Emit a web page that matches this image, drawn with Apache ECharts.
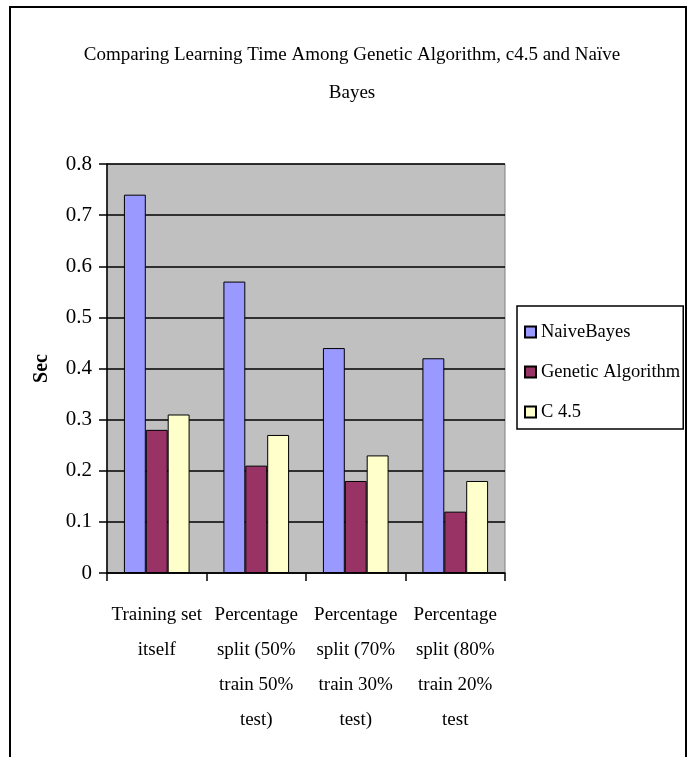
<!DOCTYPE html>
<html>
<head>
<meta charset="utf-8">
<script src="https://cdn.jsdelivr.net/npm/echarts@6/dist/echarts.min.js"></script>
<style>
html,body{margin:0;padding:0;background:#fff;}
#c{width:693px;height:757px;}
</style>
</head>
<body>
<div id="c"></div>
<script>
const categories = [
  "Training set\nitself",
  "Percentage\nsplit (50%\ntrain 50%\ntest)",
  "Percentage\nsplit (70%\ntrain 30%\ntest)",
  "Percentage\nsplit (80%\ntrain 20%\ntest"
];
const naiveBayes = [0.74, 0.57, 0.44, 0.42];
const geneticAlgorithm = [0.28, 0.21, 0.18, 0.12];
const c45 = [0.31, 0.27, 0.23, 0.18];
const seriesNames = ["NaiveBayes", "Genetic Algorithm", "C 4.5"];
const titleText = "Comparing Learning Time Among Genetic Algorithm, c4.5 and Naïve\nBayes";
const yAxisName = "Sec";

const FONT = "'Liberation Serif', 'Times New Roman', serif";
const chart = echarts.init(document.getElementById('c'), null, {renderer: 'canvas'});
const colors = ['#9999FF', '#993366', '#FFFFCC'];
const dataSets = [naiveBayes, geneticAlgorithm, c45];

chart.setOption({
  animation: false,
  backgroundColor: '#ffffff',
  title: {
    text: titleText,
    left: 347,
    top: 31,
    textAlign: 'center',
    textStyle: {fontFamily: FONT, fontSize: 19, fontWeight: 'normal', color: '#000', lineHeight: 38}
  },
  graphic: [{
    type: 'rect',
    shape: {x: 10, y: 7, width: 676, height: 770},
    style: {fill: 'none', stroke: '#000', lineWidth: 2},
    silent: true,
    z: 100
  }],
  legend: {
    orient: 'vertical',
    left: 517,
    top: 306,
    padding: [16, 3, 7, 7],
    borderColor: '#000',
    borderWidth: 1.5,
    itemWidth: 11,
    itemHeight: 11,
    itemGap: 20,
    icon: 'rect',
    textStyle: {fontFamily: FONT, fontSize: 18.5, color: '#000', lineHeight: 20},
    data: seriesNames
  },
  grid: {
    left: 107, top: 164, width: 398, height: 409,
    show: true,
    backgroundColor: '#C0C0C0',
    borderColor: '#808080',
    borderWidth: 1
  },
  xAxis: {
    type: 'category',
    data: categories,
    axisLine: {lineStyle: {color: '#000', width: 1.5}},
    axisTick: {show: true, length: 8, lineStyle: {color: '#000', width: 1.5}, alignWithLabel: false},
    axisLabel: {fontFamily: FONT, fontSize: 19, color: '#000', lineHeight: 35, margin: 25, interval: 0}
  },
  yAxis: {
    type: 'value',
    min: 0, max: 0.8, interval: 0.1,
    name: yAxisName,
    nameLocation: 'middle',
    nameGap: 55,
    nameTextStyle: {fontFamily: FONT, fontSize: 20, fontWeight: 'bold', color: '#000'},
    axisLine: {show: true, lineStyle: {color: '#000', width: 1.5}},
    axisTick: {show: true, length: 8, lineStyle: {color: '#000', width: 1.5}},
    axisLabel: {fontFamily: FONT, fontSize: 21, color: '#000', margin: 15,
      formatter: v => (v === 0 ? '0' : v.toFixed(1))},
    splitLine: {show: true, lineStyle: {color: '#000', width: 1.5}}
  },
  series: dataSets.map((d, i) => ({
    name: seriesNames[i],
    type: 'bar',
    data: d,
    barGap: '0%',
    barCategoryGap: '34%',
    itemStyle: {color: colors[i], borderColor: '#000', borderWidth: 1}
  }))
});
</script>
</body>
</html>
